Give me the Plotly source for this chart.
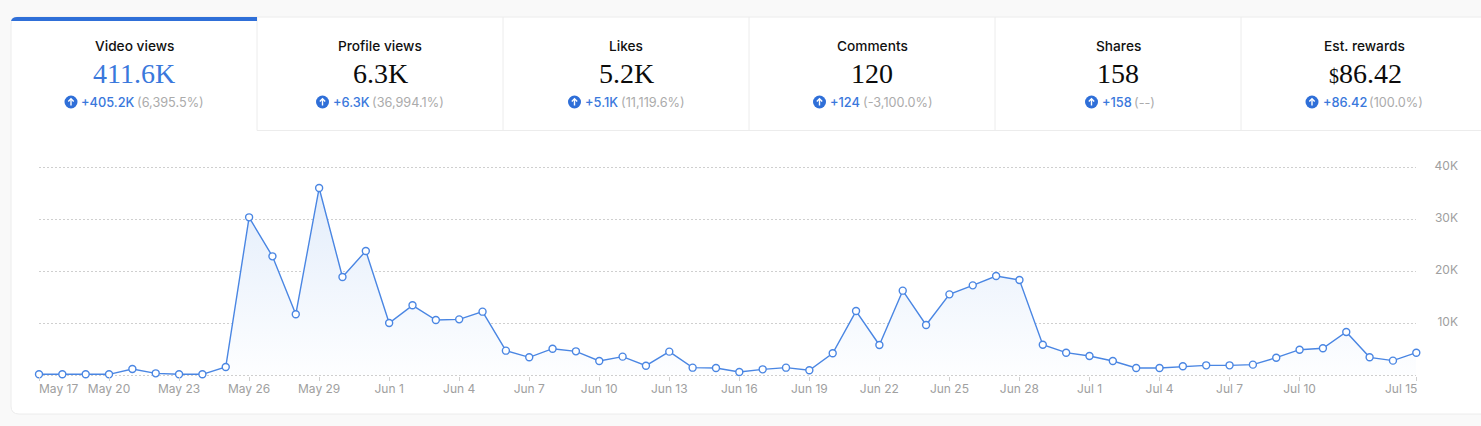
import pandas as pd
import plotly.graph_objects as go

WIDTH, HEIGHT = 1481, 426

# Daily video views, May 17 to Jul 15
dates = pd.date_range("2024-05-17", "2024-07-15", freq="D")
views = [
    130, 130, 130, 130, 1150, 320, 130, 130, 1540, 30320, 22820, 11670, 35960, 18850, 23850,
    10000, 13400, 10580, 10700, 12180, 4680, 3400, 5060, 4550, 2690, 3530, 1790, 4490, 1410, 1350,
    580, 1090, 1410, 900, 4170, 12300, 5770, 16220, 9620, 15510, 17240, 19040, 18270, 5830, 4290,
    3650, 2690, 1350, 1350, 1670, 1860, 1860, 1990, 3330, 4870, 5130, 8270, 3400, 2760, 4290,
]

tab_titles = ["Video views", "Profile views", "Likes", "Comments", "Shares", "Est. rewards"]
tab_values = ["411.6K", "6.3K", "5.2K", "120", "158", '<span style="font-size:20px">$</span>86.42']
tab_deltas = ["+405.2K", "+6.3K", "+5.1K", "+124", "+158", "+86.42"]
tab_percents = ["(6,395.5%)", "(36,994.1%)", "(11,119.6%)", "(-3,100.0%)", "(--)", "(100.0%)"]

tab_centers = [134, 380, 626, 872, 1118, 1365]
icon_x = [71, 322.5, 574.5, 819.5, 1091.5, 1312]
delta_x = [80.5, 332.5, 584.5, 829.5, 1101.5, 1322.5]
percent_x = [136.5, 372, 621, 863, 1134, 1369]

x_tick_dates = pd.date_range("2024-05-20", "2024-07-10", freq="3D")
y_ticks = [0, 10000, 20000, 30000, 40000]
y_tick_text = ["", "10K", "20K", "30K", "40K"]

BLUE = "#3a78dc"
LINE = "#4a86e3"
BORDER = "#ececec"
GREY = "#a0a0a0"
SANS = "Inter, Roboto, sans-serif"
SERIF = "'Liberation Serif', serif"


def fx(px):
    return px / WIDTH


def fy(px):
    return 1 - px / HEIGHT


def path(points):
    return "M " + " L ".join(f"{fx(x)} {fy(y)}" for x, y in points)


shapes = []

# White card with rounded left corners
shapes.append(dict(
    type="path", xref="paper", yref="paper", layer="below",
    path=(f"M {fx(1490)} {fy(17)} L {fx(19)} {fy(17)} Q {fx(11)} {fy(17)} {fx(11)} {fy(25)} "
          f"L {fx(11)} {fy(406)} Q {fx(11)} {fy(414)} {fx(19)} {fy(414)} L {fx(1490)} {fy(414)} Z"),
    fillcolor="#ffffff", line=dict(color=BORDER, width=1),
))

# Tab dividers and the rule under the inactive tabs
for px in [257, 503, 749, 995, 1241]:
    shapes.append(dict(type="path", xref="paper", yref="paper", layer="below",
                       path=path([(px, 17), (px, 130.5)]), line=dict(color=BORDER, width=1)))
shapes.append(dict(type="path", xref="paper", yref="paper", layer="below",
                   path=path([(257, 130.5), (1481, 130.5)]), line=dict(color=BORDER, width=1)))

# Accent bar across the top of the active tab
shapes.append(dict(
    type="path", xref="paper", yref="paper", layer="below",
    path=(f"M {fx(11)} {fy(21)} Q {fx(12)} {fy(17)} {fx(17)} {fy(17)} "
          f"L {fx(257)} {fy(17)} L {fx(257)} {fy(21)} Z"),
    fillcolor="#2f6fd8", line=dict(width=0),
))

annotations = []


def label(px, py, text, size, color, anchor="center", family=SANS, weight=400):
    annotations.append(dict(
        x=fx(px), y=fy(py), xref="paper", yref="paper", text=text, showarrow=False,
        xanchor=anchor, yanchor="middle", align=anchor,
        font=dict(family=family, size=size, color=color, weight=weight),
        borderpad=0, borderwidth=0,
    ))


for i, title in enumerate(tab_titles):
    label(tab_centers[i] if i < 5 else 1364.5, 46, title, 13.7, "#111111", weight=500)
    label(tab_centers[i], 73, tab_values[i], 28, BLUE if i == 0 else "#0b0b0b", family=SERIF)
    label(delta_x[i], 102, tab_deltas[i], 12.8, BLUE, anchor="left", weight=500)
    label(percent_x[i], 102, tab_percents[i], 12.7, "#ababab", anchor="left")

    # Round badge with an up arrow
    cx, cy = icon_x[i], 102
    shapes.append(dict(type="circle", xref="paper", yref="paper", layer="above",
                       x0=fx(cx - 6.5), x1=fx(cx + 6.5), y0=fy(cy - 6.5), y1=fy(cy + 6.5),
                       fillcolor="#2f6fd8", line=dict(width=0)))
    shapes.append(dict(type="path", xref="paper", yref="paper", layer="above",
                       path=path([(cx, cy + 3.5), (cx, cy - 3)]), line=dict(color="#ffffff", width=1.4)))
    shapes.append(dict(type="path", xref="paper", yref="paper", layer="above",
                       path=path([(cx - 2.7, cy - 0.4), (cx, cy - 3.2), (cx + 2.7, cy - 0.4)]),
                       line=dict(color="#ffffff", width=1.4)))

# End labels are aligned inward so they stay within the plot's width
label(39, 388, "May 17", 12, GREY, anchor="left")
label(1416.5, 388, "Jul 15", 12, GREY, anchor="right")

fig = go.Figure(go.Scatter(
    x=dates, y=views, mode="lines+markers", cliponaxis=False,
    line=dict(color=LINE, width=1.4),
    marker=dict(size=7, color="#ffffff", line=dict(color=LINE, width=1.4)),
    fill="tozeroy",
    fillgradient=dict(type="vertical", colorscale=[[0, "#fdfeff"], [1, "#e3edfb"]]),
    fillcolor="rgba(0,0,0,0)",
    hoverinfo="x+y",
))

fig.update_layout(
    width=WIDTH, height=HEIGHT,
    margin=dict(l=0, r=0, t=0, b=0),
    paper_bgcolor="#f9f9f9", plot_bgcolor="rgba(0,0,0,0)",
    showlegend=False, shapes=shapes, annotations=annotations,
    xaxis=dict(
        domain=[fx(39), fx(1416.3)],
        range=[dates[0], dates[-1]], type="date",
        tickvals=[dates[0]] + list(x_tick_dates) + [dates[-1]],
        ticktext=[""] + [f"{d:%b} {d.day}" for d in x_tick_dates] + [""],
        ticks="outside", ticklen=4, tickcolor="#cfcfcf", tickwidth=1,
        ticklabelstandoff=-2,
        tickfont=dict(family=SANS, size=12, color=GREY),
        showgrid=False, zeroline=False, showline=False,
        anchor="y",
    ),
    yaxis=dict(
        # Headroom keeps the top and bottom ticks inside the axis domain
        domain=[fy(376.04), fy(156.6)],
        range=[-200, 42000], tickvals=y_ticks, ticktext=y_tick_text,
        side="right", anchor="free", position=fx(1461),
        ticklabelposition="inside", ticklabelshift=-1,
        tickfont=dict(family=SANS, size=12, color=GREY),
        showgrid=True, griddash="2px,2px", gridcolor="#cfcfcf", gridwidth=1,
        zeroline=False, showline=False, ticks="",
    ),
)

fig.write_html("out.html")
